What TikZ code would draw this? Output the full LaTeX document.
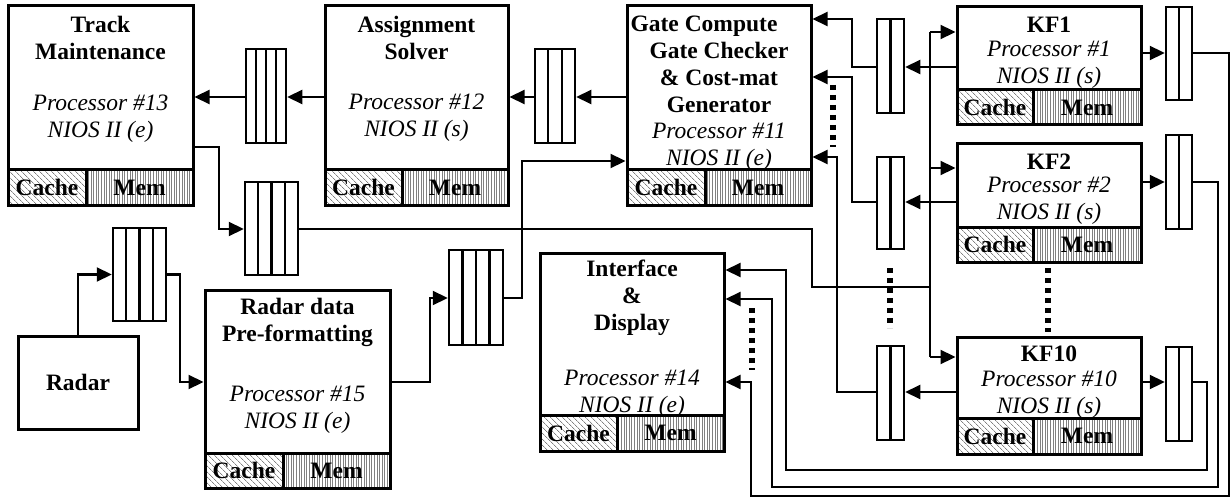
\documentclass[tikz,border=0pt]{standalone}
\usepackage{fontspec}
\setmainfont{Liberation Serif}
\usetikzlibrary{arrows.meta,patterns.meta}
\tikzset{
  txt/.style={font=\fontsize{23.5}{27}\selectfont, align=center, inner sep=0pt},
  ttl/.style={txt, font=\fontsize{23.5}{27}\selectfont\bfseries},
  ptx/.style={txt, font=\fontsize{23.5}{27}\selectfont\itshape},
  box/.style={draw, line width=3pt, inner sep=0pt},
  cachest/.style={box, pattern={Lines[angle=-45,distance=4pt,line width=0.8pt]}, pattern color=gray, font=\fontsize{23.5}{27}\selectfont\bfseries},
  memst/.style={box, pattern={Lines[angle=90,distance=2.6pt,line width=0.9pt]}, pattern color=gray, font=\fontsize{23.5}{27}\selectfont\bfseries},
  fifost/.style={draw, line width=2.5pt, inner sep=0pt},
  fifoline/.style={line width=2.2pt},
  conn/.style={line width=2.2pt},
  arr/.style={line width=2.2pt, -{Triangle[length=15pt,width=14pt]}},
  dotst/.style={line width=5.5pt, dash pattern=on 5pt off 5pt},
}
\newcommand\procbox[7]{%
  \node[box, minimum width={#4-#2}, minimum height={#5-#3}] (#1) at ({(#2+#4)/2},{(#3+#5)/2}) {};
  \node[cachest, minimum width={#7-#2}, minimum height={#6-#5}] (#1C) at ({(#2+#7)/2},{(#5+#6)/2}) {Cache};
  \node[memst, minimum width={#4-#7}, minimum height={#6-#5}] (#1M) at ({(#7+#4)/2},{(#5+#6)/2}) {Mem};
}
\newcommand\fifo[7]{%
  \node[fifost, minimum width={#4-#2}, minimum height={#5-#3}] (#1) at ({(#2+#4)/2},{(#3+#5)/2}) {};
  \foreach \k in {1,...,#7}{\draw[fifoline] ({#2+\k*(#4-#2)/#6},#3) -- ({#2+\k*(#4-#2)/#6},#5);}
}
\begin{document}
\begin{tikzpicture}[x=1pt,y=-1pt]
\useasboundingbox (0,0) rectangle (1230,497);
% processors
\procbox{tm}{8}{6}{193}{170}{205}{86}
\procbox{as}{325}{6}{508}{170}{205}{402}
\procbox{gate}{627}{6}{811}{170}{205}{705}
\procbox{kf1}{957}{7}{1141}{90}{125}{1033}
\procbox{kf2}{957}{144}{1141}{227}{262}{1033}
\procbox{kf10}{957}{337}{1141}{418}{454}{1033}
\procbox{pre}{205}{290}{390}{453}{488}{283}
\procbox{intf}{540}{253}{724}{415}{451}{617}
\node[box, ttl, minimum width=120, minimum height=93] (radar) at (78,382.5) {Radar};
% texts
\node[ttl] (tmT) at (100.5,37.5) {Track\\Maintenance};
\node[ptx] (tmP) at (100.5,118.5) {Processor \#13\\NIOS II (e)};
\node[ttl] (asT) at (416.5,37.5) {Assignment\\Solver};
\node[ptx] (asP) at (416.5,118) {Processor \#12\\NIOS II (s)};
\node[ttl] (gateT) at (719,64.5) {Gate Compute\hspace*{30pt}\\Gate Checker\\\& Cost-mat\\Generator};
\node[ptx] (gateP) at (719,146.5) {Processor \#11\\NIOS II (e)};
\node[ttl] (kf1T) at (1049,25) {KF1};
\node[ptx] (kf1P) at (1049,65) {Processor \#1\\NIOS II (s)};
\node[ttl] (kf2T) at (1049,162) {KF2};
\node[ptx] (kf2P) at (1049,201) {Processor \#2\\NIOS II (s)};
\node[ttl] (kf10T) at (1049,354) {KF10};
\node[ptx] (kf10P) at (1049,395) {Processor \#10\\NIOS II (s)};
\node[ttl] (preT) at (297.5,322) {Radar data\\Pre-formatting};
\node[ptx] (preP) at (297.5,410) {Processor \#15\\NIOS II (e)};
\node[ttl] (intfT) at (632,297.5) {Interface\\\&\\Display};
\node[ptx] (intfP) at (632,393.5) {Processor \#14\\NIOS II (e)};
% fifos
\fifo{ftm}{246}{49}{286}{143}{4}{3}
\fifo{fas}{535}{49}{575}{143}{3}{2}
\fifo{ftmo}{245}{182}{298}{275}{4}{3}
\fifo{fradar}{113}{228}{166}{321}{4}{3}
\fifo{fpre}{449}{250}{503}{345}{4}{3}
\fifo{fkal}{877}{19}{904}{113}{2}{1}
\fifo{fkbl}{877}{157}{904}{249}{2}{1}
\fifo{fkcl}{877}{346}{904}{440}{2}{1}
\fifo{fkar}{1166}{7}{1192}{100}{2}{1}
\fifo{fkbr}{1166}{135}{1192}{229}{2}{1}
\fifo{fkcr}{1166}{347}{1192}{441}{2}{1}
% top chain
\draw[arr] (as.west |- 0,97) -- (ftm.east |- 0,97);
\draw[arr] (ftm.west |- 0,97) -- (tm.east |- 0,97);
\draw[arr] (gate.west |- 0,97) -- (fas.east |- 0,97);
\draw[arr] (fas.west |- 0,97) -- (as.east |- 0,97);
% track maintenance output to KF bus
\draw[arr] (tm.east |- 0,147) -| (219,229) -- (ftmo.west |- 0,229);
\coordinate (bus) at (930,287);
\draw[conn] (ftmo.east |- 0,229) -| (812,287) -- (bus);
\draw[conn] (bus |- 0,32) -- (bus |- 0,357);
\draw[arr] (bus |- 0,32) -- (kf1.west |- 0,32);
\draw[arr] (bus |- 0,168) -- (kf2.west |- 0,168);
\draw[arr] (bus |- 0,357) -- (kf10.west |- 0,357);
% radar chain
\draw[arr] (radar.north) |- (fradar.west);
\draw[arr] (fradar.east) -| (180,382) -- (pre.west |- 0,382);
\draw[arr] (pre.east |- 0,382) -| (430,298) -- (fpre.west |- 0,298);
\draw[arr] (fpre.east |- 0,298) -| (522,161) -- (gate.west |- 0,161);
% KF to gate
\draw[arr] (kf1.west |- 0,67) -- (fkal.east |- 0,67);
\draw[arr] (fkal.west |- 0,67) -| (852,19) -- (gate.east |- 0,19);
\draw[arr] (kf2.west |- 0,202) -- (fkbl.east |- 0,202);
\draw[arr] (fkbl.west |- 0,202) -| (852,77) -- (gate.east |- 0,77);
\draw[arr] (kf10.west |- 0,392) -- (fkcl.east |- 0,392);
\draw[arr] (fkcl.west |- 0,392) -| (837,157) -- (gate.east |- 0,157);
% KF to interface
\draw[arr] (kf1.east |- 0,53) -- (fkar.west |- 0,53);
\draw[arr] (fkar.east |- 0,53) -| (1229,496) -| (751,382) -- (intf.east |- 0,382);
\draw[arr] (kf2.east |- 0,182) -- (fkbr.west |- 0,182);
\draw[arr] (fkbr.east |- 0,182) -| (1218,487) -| (772,299) -- (intf.east |- 0,299);
\draw[arr] (kf10.east |- 0,382) -- (fkcr.west |- 0,382);
\draw[arr] (fkcr.east |- 0,382) -| (1207,470) -| (786,270) -- (intf.east |- 0,270);
% dotted continuation marks
\draw[dotst] (833,85) -- (833,147);
\draw[dotst] (890,268) -- (890,328);
\draw[dotst] (1048,268) -- (1048,332);
\draw[dotst] (752,308) -- (752,370);
\end{tikzpicture}
\end{document}
